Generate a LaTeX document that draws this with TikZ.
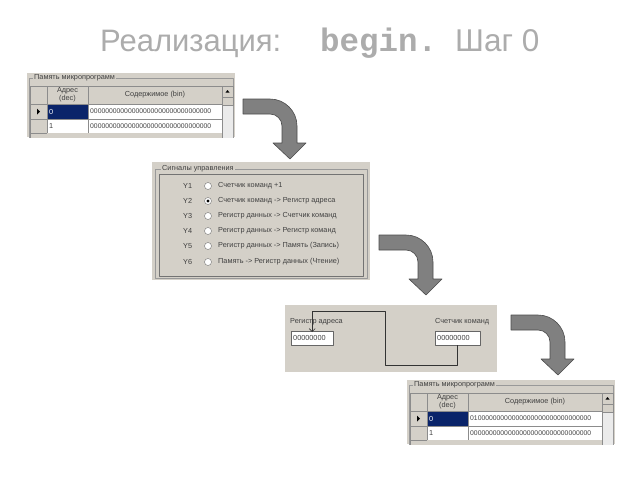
\documentclass[tikz,border=0pt]{standalone}
\usepackage{fontspec}
\setmainfont{Liberation Sans}
\setmonofont{Liberation Mono}
\usetikzlibrary{arrows.meta}
\definecolor{winbg}{RGB}{212,208,200}
\definecolor{selblue}{RGB}{10,36,106}
\definecolor{titlegray}{RGB}{172,172,172}
\definecolor{arrowgray}{RGB}{128,128,128}
\tikzset{
  panel/.style={fill=winbg},
  frame/.style={draw=black!40, line width=0.5pt},
  cell/.style={draw=black!45, line width=0.4pt, inner sep=0pt, outer sep=0pt, anchor=north west},
  hcell/.style={cell, fill=winbg},
  wcell/.style={cell, fill=white},
  uitext/.style={font=\fontsize{7.3}{7.8}\selectfont, text=black!75, inner sep=0pt},
  bintext/.style={uitext, font=\fontsize{6.8}{7.5}\selectfont},
  grouplabel/.style={uitext, fill=winbg, inner xsep=1pt},
  radio/.style={circle, draw=black!55, fill=white, minimum size=7pt, inner sep=0pt},
  textbox/.style={draw=black!60, fill=white, inner sep=0pt, anchor=north west},
  wire/.style={draw=black!80, line width=0.6pt},
  bigarrow/.style={fill=arrowgray, draw=black!70, line width=0.6pt},
  title/.style={text=titlegray, inner sep=0pt},
}
\newcommand{\zeros}{00000000000000000000000000000000}
% Панель памяти микропрограмм: #1 имя, #2 положение, #3 первое слово
\newcommand{\mempanel}[3]{%
  \begin{scope}[shift={#2}]
    \fill[panel] (0,0) rectangle (208,64);
    \begin{scope}
      \clip (0,0) rectangle (208,64);
      % рамка группы
      \draw[frame] (2,70) -- (2,5) -- (206,5) -- (206,70);
      % шапка таблицы
      \node[hcell, minimum width=17pt, minimum height=18pt] (#1h0) at (3,13) {};
      \node[hcell, minimum width=41pt, minimum height=18pt, uitext, align=center] (#1h1) at (20,13) {Адрес\\(dec)};
      \node[hcell, minimum width=134pt, minimum height=18pt, uitext] (#1h2) at (61,13) {Содержимое (bin)};
      % строка 0
      \node[hcell, minimum width=17pt, minimum height=15pt] (#1r0) at (3,31) {};
      \fill (#1r0.center) ++(-1.5,-3) -- ++(3,3) -- ++(-3,3) -- cycle;
      \node[cell, fill=selblue, minimum width=41pt, minimum height=15pt] (#1a0) at (20,31) {};
      \node[uitext, text=white, anchor=west] (#1a0t) at ([xshift=2pt]#1a0.west) {0};
      \node[wcell, minimum width=134pt, minimum height=15pt] (#1c0) at (61,31) {};
      \node[bintext, anchor=west] (#1c0t) at ([xshift=2pt]#1c0.west) {#3};
      % строка 1
      \node[hcell, minimum width=17pt, minimum height=14pt] (#1r1) at (3,46) {};
      \node[wcell, minimum width=41pt, minimum height=14pt] (#1a1) at (20,46) {};
      \node[uitext, anchor=west] (#1a1t) at ([xshift=2pt]#1a1.west) {1};
      \node[wcell, minimum width=134pt, minimum height=14pt] (#1c1) at (61,46) {};
      \node[bintext, anchor=west] (#1c1t) at ([xshift=2pt]#1c1.west) {\zeros};
      % строка 2 (обрезана)
      \node[hcell, minimum width=17pt, minimum height=14pt] (#1r2) at (3,60) {};
      \node[hcell, minimum width=175pt, minimum height=14pt, draw=none] (#1a2) at (20,60) {};
      % полоса прокрутки
      \fill[black!8] (195,13) rectangle (206,70);
      \draw[black!45] (195,13) -- (195,70);
      \node[hcell, minimum width=11pt, minimum height=11pt] (#1up) at (195,13) {};
      \fill (#1up.center) ++(-2,1) -- ++(4,0) -- ++(-2,-2.5) -- cycle;
      \node[hcell, minimum width=11pt, minimum height=8pt] (#1thumb) at (195,24) {};
    \end{scope}
    \node[grouplabel, anchor=west] (#1lbl) at (6,5) {Память микропрограмм};
  \end{scope}}
% Изогнутая стрелка
\newcommand{\bentarrow}[1]{%
  \draw[bigarrow, shift={#1}] (0,0) -- (27,0)
    arc[start angle=-90, end angle=0, radius=27] -- (54,44) -- (63,44)
    -- (47,60) -- (30,44) -- (39,44) -- (39,27)
    arc[start angle=0, end angle=-90, radius=12] -- (0,15) -- cycle;}
\begin{document}
\begin{tikzpicture}[x=1pt, y=-1pt, line join=round, >=stealth]
	\useasboundingbox[fill=white] (0,0) rectangle (640,480);
	% Заголовок
	\node[title, anchor=base west, font=\fontsize{31}{32}\selectfont] (tA) at (100,51) {Реализация:};
	\node[title, anchor=base west, font=\fontsize{32.5}{33}\selectfont\ttfamily\bfseries] (tB) at (320,51) {begin.};
	\node[title, anchor=base west, font=\fontsize{31.5}{32}\selectfont] (tC) at (455,51) {Шаг 0};
	% Память до шага
	\mempanel{m}{(27,73)}{\zeros}
	% Сигналы управления
	\begin{scope}[shift={(152,162)}]
		\fill[panel] (0,0) rectangle (218,118);
		\draw[frame] (3,7) rectangle (215,116);
		\draw[black!55] (7,12) rectangle (211,114);
		\node[grouplabel, anchor=west] (siglbl) at (9,7) {Сигналы управления};
		\foreach \i/\yy/\txt in {1/24/{Счетчик команд +1},
				2/39/{Счетчик команд -> Регистр адреса},
				3/54/{Регистр данных -> Счетчик команд},
				4/69/{Регистр данных -> Регистр команд},
				5/84/{Регистр данных -> Память (Запись)},
				6/100/{Память -> Регистр данных (Чтение)}} {
			\node[uitext, anchor=west] (y\i) at (31,\yy) {Y\i};
			\node[radio] (rb\i) at (56,\yy) {};
			\node[uitext, anchor=west] (sig\i) at (66,\yy) {\txt};
		}
		\fill (rb2) circle (1.6);
	\end{scope}
	% Регистры
	\begin{scope}[shift={(285,305)}]
		\fill[panel] (0,0) rectangle (212,67);
		\node[uitext, anchor=west] (ralbl) at (5,17) {Регистр адреса};
		\node[uitext, anchor=west] (pclbl) at (150,17) {Счетчик команд};
		\node[textbox, minimum width=42pt, minimum height=14pt] (rabox) at (6,26) {};
		\node[uitext, anchor=west] (raval) at ([xshift=2pt]rabox.west) {00000000};
		\node[textbox, minimum width=45pt, minimum height=14pt] (pcbox) at (150,26) {};
		\node[uitext, anchor=west] (pcval) at ([xshift=2pt]pcbox.west) {00000000};
		\coordinate (bend) at (100,6);
		\draw[wire, -{Straight Barb[length=3pt, width=6pt]}] (pcbox.south) |- (100,60) -- (bend) -| ([yshift=-1pt]rabox.north);
	\end{scope}
	% Память после шага
	\mempanel{n}{(407,380)}{01000000000000000000000000000000}
	% Стрелки
	\bentarrow{(243,99)}
	\bentarrow{(379,235)}
	\bentarrow{(511,315)}
\end{tikzpicture}
\end{document}
